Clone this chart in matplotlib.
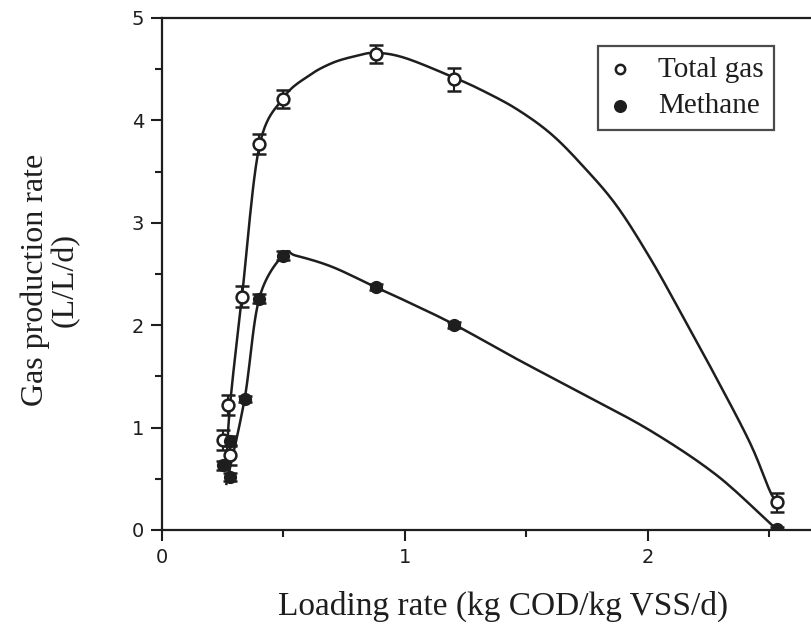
import matplotlib
matplotlib.use("Agg")
import matplotlib.pyplot as plt
from matplotlib.ticker import MultipleLocator
import numpy as np

# measured points
total_x = [0.25, 0.28, 0.27, 0.33, 0.40, 0.50, 0.88, 1.20, 2.53]
total_y = [0.88, 0.73, 1.22, 2.28, 3.77, 4.21, 4.65, 4.40, 0.27]
total_err = [0.10, 0.10, 0.10, 0.10, 0.10, 0.09, 0.09, 0.11, 0.09]

methane_x = [0.25, 0.28, 0.28, 0.34, 0.40, 0.50, 0.88, 1.20, 2.53]
methane_y = [0.63, 0.52, 0.87, 1.28, 2.26, 2.68, 2.37, 2.00, 0.01]
methane_err = [0.04, 0.04, 0.05, 0.03, 0.04, 0.04, 0.03, 0.03, 0.02]

# fitted curves as drawn in the figure
total_fit_x = [0.265, 0.28, 0.33, 0.40, 0.50, 0.60, 0.70, 0.80, 0.88, 1.00,
               1.20, 1.32, 1.46, 1.60, 1.73, 1.87, 2.01, 2.14, 2.28, 2.42, 2.50, 2.53]
total_fit_y = [0.60, 1.22, 2.30, 3.74, 4.22, 4.43, 4.56, 4.63, 4.66, 4.61,
               4.42, 4.29, 4.11, 3.87, 3.56, 3.17, 2.65, 2.10, 1.49, 0.85, 0.39, 0.27]

methane_fit_x = [0.265, 0.34, 0.40, 0.50, 0.55, 0.70, 0.88, 1.00, 1.20,
                 1.46, 1.73, 2.01, 2.28, 2.50, 2.53]
methane_fit_y = [0.45, 1.28, 2.26, 2.69, 2.68, 2.57, 2.37, 2.24, 2.01,
                 1.67, 1.33, 0.97, 0.54, 0.07, 0.01]

ink = "#1e1e1e"


def smooth(xs, ys, n=12):
    # catmull-rom through the read points, only to draw the line smoothly
    p = np.column_stack([xs, ys])
    p = np.vstack([p[0], p, p[-1]])
    out = []
    for i in range(1, len(p) - 2):
        p0, p1, p2, p3 = p[i - 1], p[i], p[i + 1], p[i + 2]
        for t in np.linspace(0, 1, n, endpoint=False):
            t2, t3 = t * t, t * t * t
            out.append(0.5 * (2 * p1 + (-p0 + p2) * t + (2 * p0 - 5 * p1 + 4 * p2 - p3) * t2
                              + (-p0 + 3 * p1 - 3 * p2 + p3) * t3))
    out.append(p[-2])
    out = np.array(out)
    return out[:, 0], out[:, 1]


fig = plt.figure(figsize=(8.12, 6.38), dpi=100)
ax = fig.add_axes([0.1995, 0.1693, 0.8005, 0.8025])

sx, sy = smooth(total_fit_x, total_fit_y)
ax.plot(sx, sy, color=ink, lw=1.8, zorder=2)
sx, sy = smooth(methane_fit_x, methane_fit_y)
ax.plot(sx, sy, color=ink, lw=1.8, zorder=2)

ax.errorbar(total_x, total_y, yerr=total_err, fmt="o", ms=8.5, mfc="white", mec=ink,
            mew=1.8, ecolor=ink, elinewidth=1.5, capsize=5, capthick=1.8, zorder=3)
ax.errorbar(methane_x, methane_y, yerr=methane_err, fmt="o", ms=8.5, mfc=ink, mec=ink,
            ecolor=ink, elinewidth=1.5, capsize=5, capthick=1.8, zorder=3)

ax.set_xlim(0, 2.675)
ax.set_ylim(0, 5)
ax.xaxis.set_major_locator(MultipleLocator(1))
ax.xaxis.set_minor_locator(MultipleLocator(0.5))
ax.yaxis.set_major_locator(MultipleLocator(1))
ax.yaxis.set_minor_locator(MultipleLocator(0.5))
ax.tick_params(which="major", direction="out", length=8, width=1.5, color=ink,
               labelsize=14, pad=5)
ax.tick_params(which="minor", direction="out", length=5, width=1.5, color=ink)
ax.spines["right"].set_visible(False)
for s in ["left", "bottom", "top"]:
    ax.spines[s].set_linewidth(1.6)
    ax.spines[s].set_color(ink)
for lab in ax.get_xticklabels() + ax.get_yticklabels():
    lab.set_fontfamily("DejaVu Sans")
    lab.set_color(ink)

fig.text(503 / 812, 1 - 606 / 638, "Loading rate (kg COD/kg VSS/d)", ha="center",
         va="center", family="Liberation Serif", fontsize=24, color=ink)
fig.text(50 / 812, 1 - 280 / 638, "Gas production rate\n(L/L/d)", rotation=90,
         ha="center", va="center", multialignment="center", family="Liberation Serif",
         fontsize=23, color=ink, linespacing=1.05)

h1 = ax.scatter([], [], s=45, facecolors="white", edgecolors=ink, linewidths=1.8)
h2 = ax.scatter([], [], s=70, facecolors=ink, edgecolors=ink)
leg = ax.legend([h1, h2], ["Total gas", "Methane"], loc="upper left",
                bbox_to_anchor=(0.671, 0.945), frameon=True, fancybox=False,
                prop={"family": "Liberation Serif", "size": 21}, handlelength=0.8,
                handletextpad=0.9, borderpad=0.35, labelspacing=0.35, borderaxespad=0)
leg.get_frame().set_edgecolor(ink)
leg.get_frame().set_linewidth(1.6)
for t in leg.get_texts():
    t.set_color(ink)

fig.savefig("out.png", dpi=100)
